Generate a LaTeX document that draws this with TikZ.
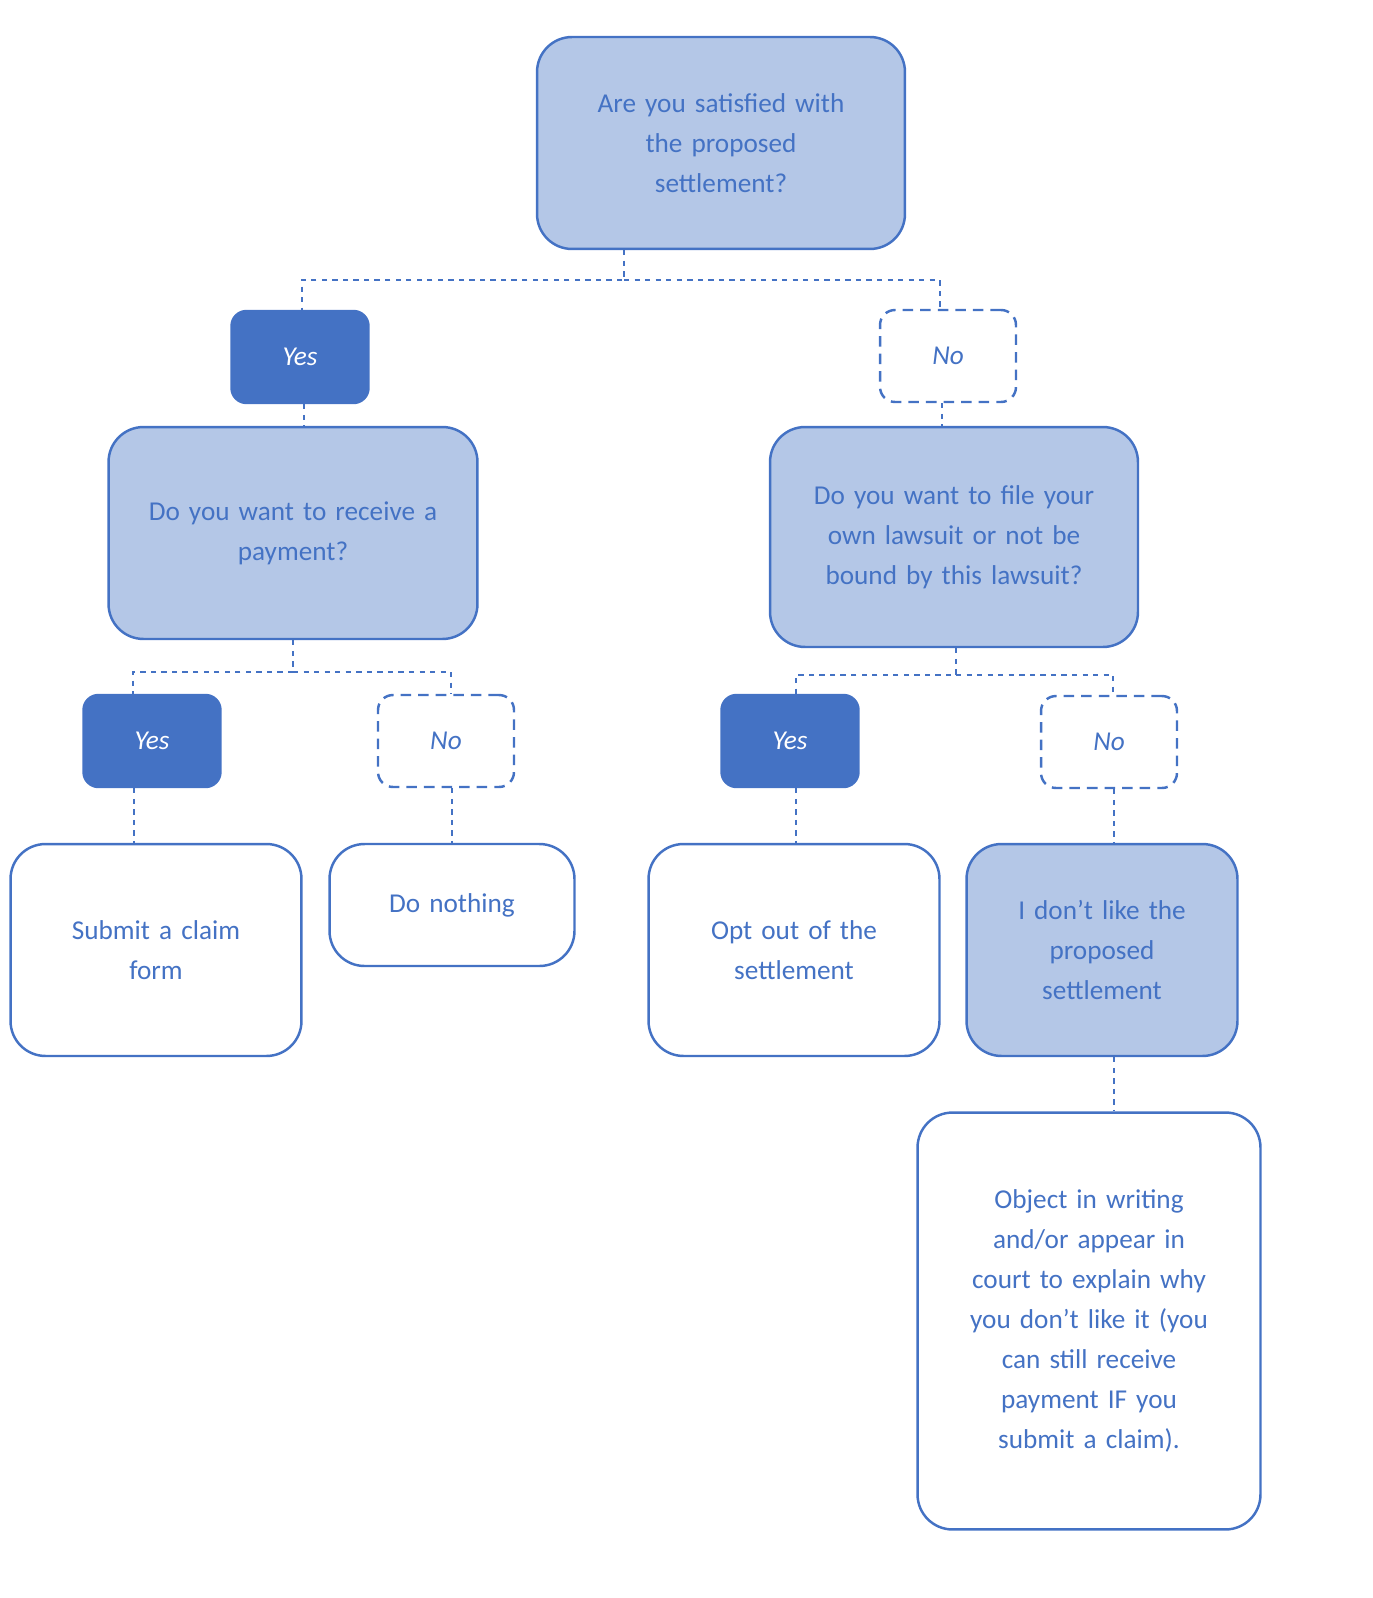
\documentclass[tikz,border=0pt]{standalone}
\usepackage{fontspec}
\setmainfont{Carlito}
\usetikzlibrary{calc}
\definecolor{boxblue}{HTML}{4472C4}
\definecolor{lightblue}{HTML}{B4C7E7}
\begin{document}
\begin{tikzpicture}[x=0.02cm, y=-0.02cm,
  font=\fontsize{15.5}{22.7}\selectfont, text=boxblue,
  question/.style={draw=boxblue, fill=lightblue, line width=1.4pt, rounded corners=0.7cm, align=center, inner sep=0pt},
  answer/.style={draw=boxblue, fill=white, line width=1.4pt, rounded corners=0.7cm, align=center, inner sep=0pt},
  yes/.style={draw=boxblue, fill=boxblue, text=white, line width=1.4pt, rounded corners=0.3cm, minimum width=2.74cm, minimum height=1.84cm, font=\fontsize{15.5}{22.7}\selectfont\itshape},
  no/.style={draw=boxblue, dashed, dash pattern=on 6pt off 4pt, fill=white, line width=1.4pt, rounded corners=0.3cm, minimum width=2.72cm, minimum height=1.84cm, font=\fontsize{15.5}{22.7}\selectfont\itshape},
  link/.style={draw=boxblue, dashed, line width=0.7pt}]
\useasboundingbox (0,0) rectangle (1372,1598);
% questions
\node[question, minimum width=7.36cm, minimum height=4.24cm, text width=6cm] (satisfied) at (721,143) {Are you satisfied with\\ the proposed\\ settlement?};
\node[question, minimum width=7.38cm, minimum height=4.24cm, text width=6.6cm] (payment) at (293,533) {Do you want to receive a\\ payment?\\[3mm]};
\node[question, minimum width=7.36cm, minimum height=4.4cm, text width=6.6cm] (lawsuit) at (954,537) {Do you want to file your\\ own lawsuit or not be\\ bound by this lawsuit?};
\node[question, minimum width=5.42cm, minimum height=4.24cm, text width=4.8cm] (dislike) at (1102,950) {I don’t like the\\ proposed\\ settlement};
% answers
\node[yes] (yes1) at (300,357) {Yes};
\node[no] (no1) at (948,356) {No};
\node[yes] (yesA) at (152,741) {Yes};
\node[no] (noA) at (446,741) {No};
\node[yes] (yesB) at (790,741) {Yes};
\node[no] (noB) at (1109,742) {No};
% outcomes
\node[answer, minimum width=5.82cm, minimum height=4.24cm, text width=5cm] (claim) at (156,950) {Submit a claim\\ form};
\node[answer, minimum width=4.9cm, minimum height=2.44cm, text width=4.5cm] (nothing) at (452,905) {Do nothing\\[8mm]};
\node[answer, minimum width=5.82cm, minimum height=4.24cm, text width=5cm] (optout) at (794,950) {Opt out of the\\ settlement};
\node[answer, minimum width=6.86cm, minimum height=8.34cm, text width=5.6cm] (object) at (1089,1321) {Object in writing\\ and/or appear in\\ court to explain why\\ you don’t like it (you\\ can still receive\\ payment IF you\\ submit a claim).\\[1.5cm]};
% junctions
\coordinate (j1) at (624,280);
\coordinate (j2) at (293,672);
\coordinate (j3) at (956,675);
\draw[link] (satisfied.south -| j1) -- (j1) -| ($(yes1.north)+(2,0)$);
\draw[link] (j1) -| ($(no1.north)+(-8,0)$);
\draw[link] ($(yes1.south)+(4,0)$) -- ($(payment.north)+(11,0)$);
\draw[link] ($(no1.south)+(-6,0)$) -- ($(lawsuit.north)+(-12,0)$);
\draw[link] (payment.south) -- (j2) -| ($(yesA.north)+(-19,0)$);
\draw[link] (j2) -| ($(noA.north)+(5,0)$);
\draw[link] (lawsuit.south -| j3) -- (j3) -| ($(yesB.north)+(6,0)$);
\draw[link] (j3) -| ($(noB.north)+(4,0)$);
\draw[link] ($(yesA.south)+(-18,0)$) -- ($(claim.north)+(-22,0)$);
\draw[link] ($(noA.south)+(6,0)$) -- (nothing.north);
\draw[link] ($(yesB.south)+(6,0)$) -- ($(optout.north)+(2,0)$);
\draw[link] ($(noB.south)+(5,0)$) -- ($(dislike.north)+(12,0)$);
\draw[link] ($(dislike.south)+(12,0)$) -- ($(object.north)+(25,0)$);
\end{tikzpicture}
\end{document}
